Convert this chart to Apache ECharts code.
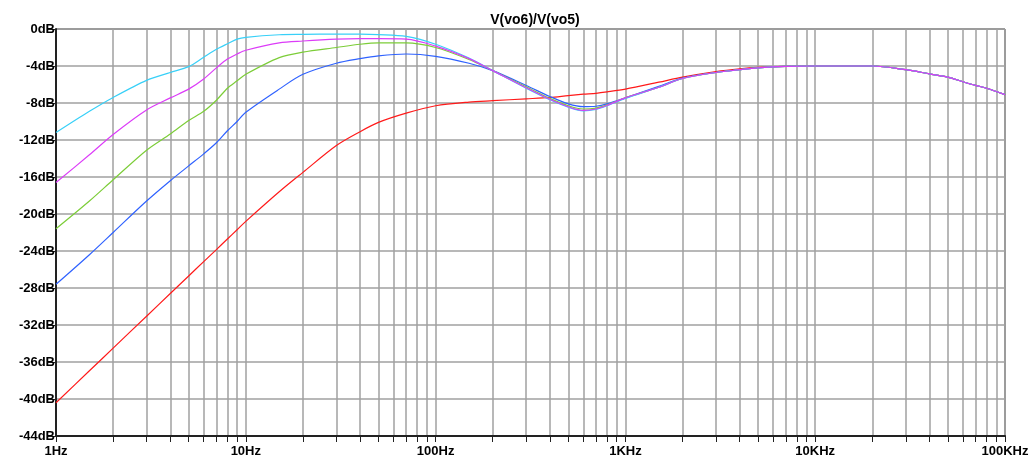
<!DOCTYPE html>
<html>
<head>
<meta charset="utf-8">
<script src="https://cdn.jsdelivr.net/npm/echarts@6/dist/echarts.min.js"></script>
<style>
html,body{margin:0;padding:0;background:#fff;}
#chart{width:1032px;height:461px;}
</style>
</head>
<body>
<div id="chart"></div>
<script>
// Frequencies (Hz)
const freqs = [1, 1.5, 2, 3, 4, 5, 6, 7, 8, 9, 10, 15, 20, 30, 40, 50, 70, 100, 150, 200, 300, 400, 500, 600, 700, 800, 1000, 1500, 2000, 3000, 4000, 5000, 7000, 10000, 15000, 20000, 30000, 40000, 50000, 60000, 70000, 80000, 100000];

// Magnitudes (dB)
const redDb = [-40.4, -36.95, -34.5, -31.05, -28.6, -26.7, -25.15, -23.85, -22.7, -21.7, -20.8, -17.6, -15.5, -12.6, -11.1, -10.1, -9.1, -8.3, -7.9, -7.75, -7.55, -7.4, -7.2, -7.05, -6.95, -6.8, -6.5, -5.75, -5.2, -4.6, -4.3, -4.15, -4.05, -4.0, -4.0, -4.0, -4.4, -4.85, -5.2, -5.7, -6.1, -6.4, -7.1];
const blueDb = [-27.6, -24.4, -22.0, -18.6, -16.4, -14.8, -13.5, -12.3, -11.0, -10.0, -9.0, -6.5, -4.9, -3.7, -3.2, -2.9, -2.7, -2.95, -3.7, -4.5, -6.1, -7.3, -8.1, -8.4, -8.35, -8.1, -7.45, -6.2, -5.3, -4.7, -4.4, -4.2, -4.05, -4.0, -4.0, -4.0, -4.4, -4.85, -5.2, -5.7, -6.1, -6.4, -7.1];
const greenDb = [-21.6, -18.6, -16.3, -13.1, -11.35, -9.9, -8.9, -7.7, -6.4, -5.6, -4.9, -3.1, -2.5, -2.0, -1.65, -1.5, -1.5, -2.0, -3.3, -4.5, -6.25, -7.5, -8.3, -8.65, -8.55, -8.2, -7.45, -6.3, -5.35, -4.7, -4.4, -4.2, -4.05, -4.0, -4.0, -4.0, -4.4, -4.85, -5.2, -5.7, -6.1, -6.4, -7.1];
const cyanDb = [-11.2, -8.9, -7.4, -5.55, -4.7, -4.07, -3.05, -2.2, -1.6, -1.1, -0.9, -0.62, -0.58, -0.55, -0.55, -0.6, -0.8, -1.65, -3.15, -4.5, -6.4, -7.65, -8.45, -8.85, -8.7, -8.3, -7.5, -6.3, -5.35, -4.7, -4.4, -4.2, -4.05, -4.0, -4.0, -4.0, -4.4, -4.85, -5.2, -5.7, -6.1, -6.4, -7.1];
const magentaDb = [-16.6, -13.6, -11.4, -8.75, -7.45, -6.5, -5.4, -4.2, -3.25, -2.7, -2.3, -1.5, -1.3, -1.1, -1.05, -1.05, -1.1, -1.85, -3.2, -4.5, -6.35, -7.6, -8.4, -8.8, -8.65, -8.25, -7.45, -6.3, -5.35, -4.7, -4.4, -4.2, -4.05, -4.0, -4.0, -4.0, -4.4, -4.85, -5.2, -5.7, -6.1, -6.4, -7.1];

// Tick values
const decadeTicks = [1, 10, 100, 1000, 10000, 100000];
const decadeLabels = ['1Hz', '10Hz', '100Hz', '1KHz', '10KHz', '100KHz'];
const minorMultipliers = [1, 2, 3, 4, 5, 6, 7, 8, 9];
const allTicks = [];
decadeTicks.slice(0, 5).forEach(d => minorMultipliers.forEach(m => allTicks.push(d * m)));
allTicks.push(100000);

const seriesDefs = [
  { name: 'red', color: '#ff1a1a', data: redDb },
  { name: 'blue', color: '#2f62ff', data: blueDb },
  { name: 'green', color: '#7ccd38', data: greenDb },
  { name: 'cyan', color: '#38d0f8', data: cyanDb },
  { name: 'magenta', color: '#dc3cf8', data: magentaDb }
];

const font = '"Liberation Sans", Arial, sans-serif';
const chart = echarts.init(document.getElementById('chart'), null, { renderer: 'canvas' });
chart.setOption({
  animation: false,
  backgroundColor: '#ffffff',
  title: {
    text: 'V(vo6)/V(vo5)',
    left: 530,
    top: 8,
    textAlign: 'center',
    textStyle: { fontFamily: font, fontWeight: 'bold', fontSize: 14, color: '#000' }
  },
  grid: { left: 56, right: 27, top: 29, bottom: 25, show: true, borderColor: '#222', borderWidth: 1 },
  xAxis: {
    type: 'log',
    logBase: 10,
    min: 1,
    max: 100000,
    axisLine: { show: true, onZero: false, lineStyle: { color: '#222', width: 2 } },
    axisTick: { show: true, length: 6, inside: false, customValues: allTicks, lineStyle: { color: '#222', width: 1 } },
    axisLabel: {
      customValues: decadeTicks,
      margin: 9,
      fontFamily: font, fontWeight: 'bold', fontSize: 13, color: '#000',
      formatter: v => { const i = decadeTicks.indexOf(v); return i >= 0 ? decadeLabels[i] : ''; }
    },
    splitLine: { show: true, lineStyle: { color: '#a0a0a0', width: 1.5 } },
    minorSplitLine: { show: false }
  },
  yAxis: {
    type: 'value',
    min: -44,
    max: 0,
    interval: 4,
    axisLine: { show: true, lineStyle: { color: '#222', width: 2 } },
    axisTick: { show: true, length: 9, lineStyle: { color: '#222', width: 1 } },
    axisLabel: { margin: 1, fontFamily: font, fontWeight: 'bold', fontSize: 13, color: '#000', formatter: '{value}dB' },
    splitLine: { show: true, lineStyle: { color: '#a0a0a0', width: 1.5 } }
  },
  series: seriesDefs.map(s => ({
    name: s.name,
    type: 'line',
    data: freqs.map((f, i) => [f, s.data[i]]),
    showSymbol: false,
    smooth: 0.3,
    lineStyle: { color: s.color, width: 1.2 },
    itemStyle: { color: s.color }
  }))
});
</script>
</body>
</html>
